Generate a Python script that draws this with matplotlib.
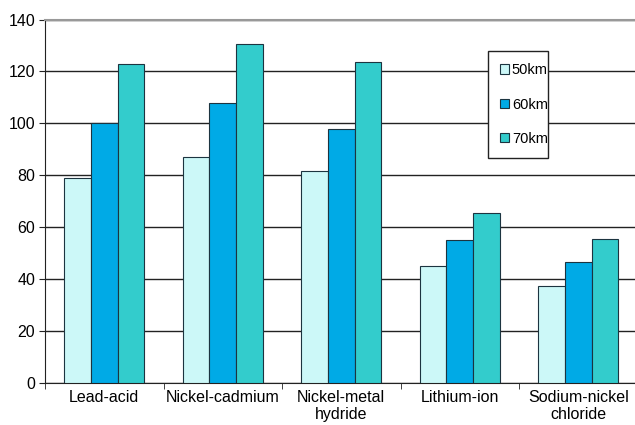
import numpy as np
import matplotlib
matplotlib.use("Agg")
import matplotlib.pyplot as plt
from matplotlib.patches import Rectangle

plt.rcParams["font.family"] = ["Liberation Sans", "DejaVu Sans"]

# 电池类型与三种续航里程下的数值
categories = ["Lead-acid", "Nickel-cadmium", "Nickel-metal\nhydride",
              "Lithium-ion", "Sodium-nickel\nchloride"]
series_names = ["50km", "60km", "70km"]
vals_50km = [79, 87, 81.5, 45, 37.5]
vals_60km = [100, 108, 98, 55, 46.5]
vals_70km = [123, 130.5, 123.5, 65.5, 55.5]
yticks = [0, 20, 40, 60, 80, 100, 120, 140]

colors = ["#ccf8f8", "#00aae6", "#33cccc"]
edge = "#1c3440"

W, H = 635, 425
fig = plt.figure(figsize=(W / 100, H / 100), dpi=100)
ax = fig.add_axes([45 / W, 42 / H, 592.5 / W, 363.5 / H])

x = np.arange(len(categories))
w = 0.225
for i, (vals, name) in enumerate(zip([vals_50km, vals_60km, vals_70km], series_names)):
    ax.bar(x + (i - 1) * w, vals, w, color=colors[i], edgecolor=edge,
           linewidth=0.8, label=name, zorder=3)

ax.set_xlim(-0.5, 4.5)
ax.set_ylim(0, 140)
ax.set_yticks(yticks)
ax.set_yticklabels([str(v) for v in yticks], fontsize=11.5)
ax.yaxis.grid(True, color="#222222", linewidth=1.0, zorder=0)
ax.set_axisbelow(True)

# 类别标签放在主刻度，刻度线只画在组与组之间
ax.set_xticks(x)
ax.set_xticklabels(categories, fontsize=11.5, linespacing=1.2)
ax.tick_params(axis="x", which="major", length=0, pad=5)
ax.set_xticks(np.arange(-0.5, 4.5, 1.0), minor=True)
ax.tick_params(axis="x", which="minor", length=4, direction="out", color="#222222")
ax.tick_params(axis="y", length=4, direction="out", color="#222222", pad=3)

ax.spines["right"].set_visible(False)
ax.spines["top"].set_color("#999999")
ax.spines["top"].set_linewidth(1.5)
ax.spines["left"].set_color("#222222")
ax.spines["bottom"].set_color("#222222")

# 图例外框单独画，左侧留白比右侧多
box = Rectangle((488 / W, (H - 158) / H), 60 / W, 107 / H, transform=fig.transFigure,
                facecolor="white", edgecolor="#222222", linewidth=1.0, zorder=4)
ax.add_patch(box)
leg = ax.legend(loc="center", bbox_to_anchor=(524 / W, (H - 104.5) / H),
                bbox_transform=fig.transFigure, frameon=False, borderpad=0,
                fontsize=10.5, handlelength=0.6, handleheight=0.6, handletextpad=0.2,
                labelspacing=1.4)
leg.set_zorder(5)

fig.savefig("out.png", dpi=100)
